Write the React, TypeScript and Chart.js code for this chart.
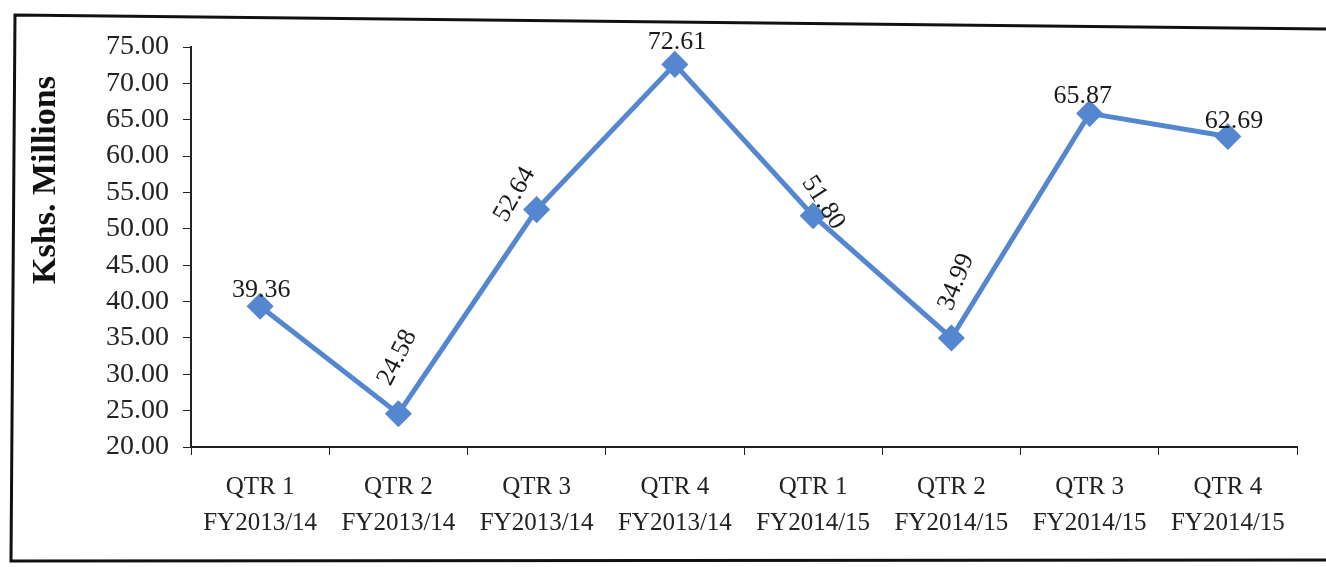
import React, { useEffect, useRef } from "react";
import { Chart, registerables } from "chart.js";

Chart.register(...registerables);

const categories: string[][] = [
  ["QTR 1", "FY2013/14"],
  ["QTR 2", "FY2013/14"],
  ["QTR 3", "FY2013/14"],
  ["QTR 4", "FY2013/14"],
  ["QTR 1", "FY2014/15"],
  ["QTR 2", "FY2014/15"],
  ["QTR 3", "FY2014/15"],
  ["QTR 4", "FY2014/15"],
];
const values: number[] = [39.36, 24.58, 52.64, 72.61, 51.8, 34.99, 65.87, 62.69];
const yTitle = "Kshs. Millions";
// label placement (rotation in degrees, offset in px from the marker)
const labelRotation: number[] = [0, -63, -60, 0, 57, -68, 0, 0];
const labelDx: number[] = [1, -1, -22, 2, 10, 5, -7, 6];
const labelDy: number[] = [-16, -56, -15, -22, -13, -56, -17, -15];

const FONT = "'Liberation Serif', 'Times New Roman', serif";
const BLUE = "#5587D0";

const extras = {
  id: "extras",
  afterDraw(chart: any) {
    const ctx = chart.ctx;
    const meta = chart.getDatasetMeta(0);
    ctx.save();
    // data labels
    ctx.fillStyle = "#1a1a1a";
    ctx.font = `26px ${FONT}`;
    ctx.textAlign = "center";
    ctx.textBaseline = "middle";
    meta.data.forEach((pt: any, i: number) => {
      ctx.save();
      ctx.translate(pt.x + labelDx[i], pt.y + labelDy[i]);
      ctx.rotate((labelRotation[i] * Math.PI) / 180);
      ctx.fillText(values[i].toFixed(2), 0, 0);
      ctx.restore();
    });
    // y-axis title
    ctx.save();
    ctx.translate(46, 180);
    ctx.rotate(-Math.PI / 2);
    ctx.font = `bold 34px ${FONT}`;
    ctx.fillStyle = "#111";
    ctx.fillText(yTitle, 0, 0);
    ctx.restore();
    // frame
    ctx.strokeStyle = "#111";
    ctx.lineWidth = 3;
    ctx.beginPath();
    ctx.moveTo(1326, 29);
    ctx.lineTo(15, 15);
    ctx.lineTo(11, 561);
    ctx.lineTo(1326, 560);
    ctx.stroke();
    ctx.restore();
  },
};

export default function App() {
  const ref = useRef<HTMLCanvasElement>(null);
  useEffect(() => {
    if (!ref.current) return;
    const chart = new Chart(ref.current, {
      type: "line",
      data: {
        labels: categories,
        datasets: [
          {
            data: values,
            borderColor: BLUE,
            backgroundColor: BLUE,
            borderWidth: 5,
            pointStyle: "rectRot",
            pointRadius: 10,
            pointBackgroundColor: BLUE,
            pointBorderColor: BLUE,
            tension: 0,
          },
        ],
      },
      options: {
        animation: false,
        responsive: true,
        maintainAspectRatio: false,
        layout: { padding: { left: 0, right: 29, top: 47, bottom: 0 } },
        plugins: { legend: { display: false }, tooltip: { enabled: false } },
        scales: {
          x: {
            offset: true,
            grid: {
              offset: true,
              drawOnChartArea: false,
              drawTicks: true,
              tickLength: 8,
              color: "#222",
            },
            border: { color: "#222", width: 2 },
            ticks: {
              color: "#222",
              font: { family: FONT, size: 25, lineHeight: 1.45 },
              padding: 14,
              maxRotation: 0,
              autoSkip: false,
            },
            afterFit(scale: any) {
              scale.height = 120;
            },
          },
          y: {
            min: 20,
            max: 75,
            grid: {
              drawOnChartArea: false,
              drawTicks: true,
              tickLength: 8,
              color: "#222",
            },
            border: { color: "#222", width: 2 },
            ticks: {
              stepSize: 5,
              autoSkip: false,
              color: "#222",
              padding: 14,
              font: { family: FONT, size: 28 },
              callback: (v: any) => Number(v).toFixed(2),
            },
            afterFit(scale: any) {
              scale.width = 191;
            },
          },
        },
      },
      plugins: [extras],
    });
    return () => chart.destroy();
  }, []);
  return (
    <div style={{ position: "fixed", left: 0, top: 0, width: 1326, height: 567, background: "#fff" }}>
      <canvas ref={ref} />
    </div>
  );
}
